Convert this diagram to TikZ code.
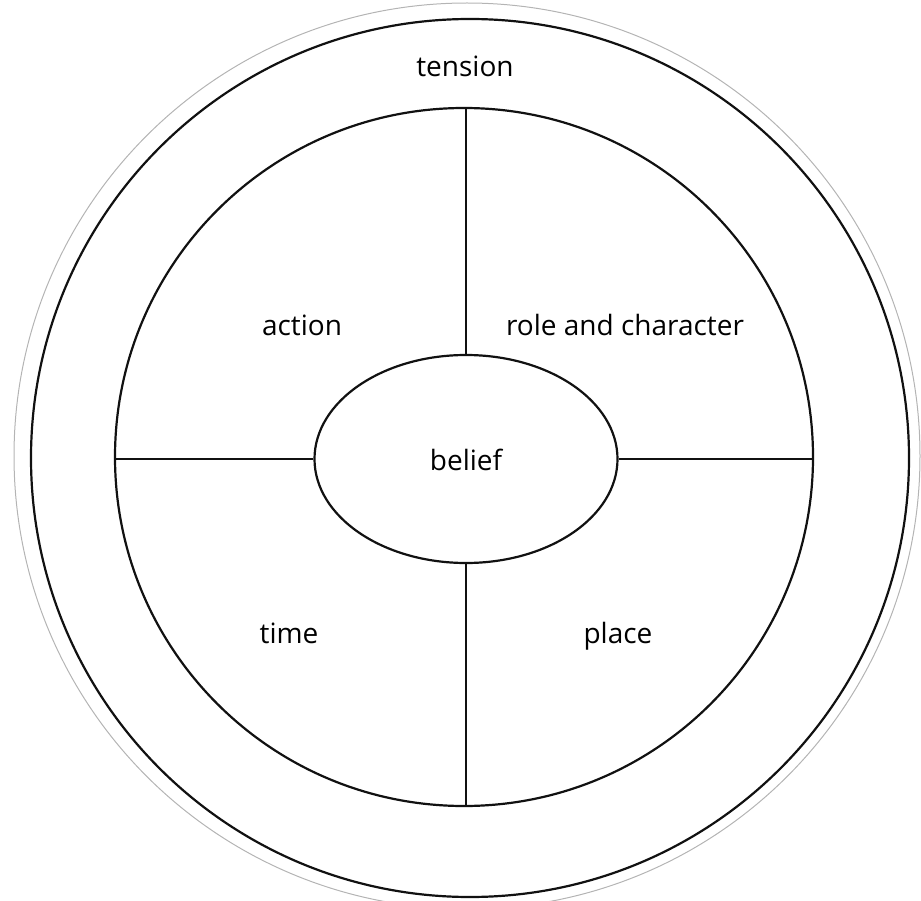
\documentclass[tikz,border=0pt]{standalone}
\usepackage{fontspec}
\setmainfont{Open Sans}
\usepackage{xcolor}
\usetikzlibrary{shapes.geometric}
\definecolor{ink}{HTML}{111111}
\definecolor{halo}{HTML}{B4B4B4}
\tikzset{
  ring/.style={circle, draw=ink, line width=2.2pt, inner sep=0pt},
  core/.style={ellipse, draw=ink, line width=2.2pt, inner sep=0pt,
               minimum width=303pt, minimum height=208pt},
  label/.style={font=\fontsize{28}{32}\selectfont, text=black, inner sep=0pt,
                anchor=base},
  spoke/.style={draw=ink, line width=2.2pt},
}

\begin{document}
\begin{tikzpicture}[x=1pt, y=-1pt]
  \useasboundingbox (0,0) rectangle (921,901);

  % ---- rings ----
  \node[circle, draw=halo, line width=1pt, minimum size=906pt, inner sep=0pt]
    (halo) at (467,456) {};
  \node[ring, minimum size=878pt] (outer) at (470,458) {};
  \node[ring, minimum size=698pt] (inner) at (464,457) {};

  % ---- centre ----
  \node[core] (belief) at (466,459) {};
  \node[label] (belieftext) at (466,470) {belief};

  % ---- spokes ----
  \draw[spoke] (belief.north) -- (belief.north |- inner.north);
  \draw[spoke] (belief.south) -- (belief.south |- inner.south);
  \draw[spoke] (belief.west) -- (belief.west -| inner.west);
  \draw[spoke] (belief.east) -- (belief.east -| inner.east);

  % ---- labels ----
  \node[label] (tension) at (465,77) {tension};
  \node[label] (action) at (302,336) {action};
  \node[label] (role) at (625,336) {role and character};
  \node[label] (time) at (289,643) {time};
  \node[label] (place) at (618,643) {place};
\end{tikzpicture}
\end{document}
